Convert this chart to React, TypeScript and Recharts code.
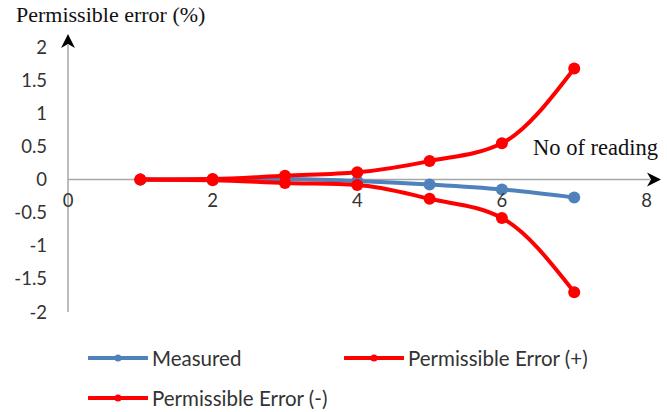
import { Line, LineChart, ReferenceDot, ReferenceLine, XAxis, YAxis } from "recharts";

const readings = [1, 2, 3, 4, 5, 6, 7];
const measured = [0, 0, 0.01, -0.02, -0.075, -0.15, -0.27];
const errPlus = [0, 0.01, 0.06, 0.11, 0.28, 0.55, 1.68];
const errMinus = [0, -0.01, -0.05, -0.08, -0.29, -0.58, -1.7];
const xTicks = [0, 2, 4, 6, 8];
const yTicks = [-2, -1.5, -1, -0.5, 0, 0.5, 1, 1.5, 2];

const series = [
  { key: "measured", name: "Measured", color: "#4F81BD" },
  { key: "plus", name: "Permissible Error (+)", color: "#FF0000" },
  { key: "minus", name: "Permissible Error (-)", color: "#FF0000" },
];

const data = readings.map((r, i) => ({
  reading: r,
  measured: measured[i],
  plus: errPlus[i],
  minus: errMinus[i],
}));

const sans = "Lato, 'Open Sans', sans-serif";
const serif = "'Liberation Serif', 'DejaVu Serif', serif";

// gray axis line finished with a black arrow head at the far end
function ArrowAxis(props: any) {
  const { x1, y1, x2, y2 } = props;
  const dx = x2 - x1;
  const dy = y2 - y1;
  const len = Math.hypot(dx, dy) || 1;
  const ux = dx / len;
  const uy = dy / len;
  const head = 14;
  const half = 7;
  const bx = x2 - ux * head;
  const by = y2 - uy * head;
  const px = -uy;
  const py = ux;
  return (
    <g>
      <line x1={x1} y1={y1} x2={bx + ux * 3} y2={by + uy * 3} stroke="#a6a6a6" strokeWidth={1.5} />
      <polygon
        points={`${x2},${y2} ${bx + px * half},${by + py * half} ${bx + ux * 4},${by + uy * 4} ${bx - px * half},${by - py * half}`}
        fill="#000"
      />
    </g>
  );
}

function LegendIcon({ color }: { color: string }) {
  return (
    <svg width={60} height={12} style={{ display: "block" }}>
      <line x1={1} y1={6} x2={59} y2={6} stroke={color} strokeWidth={4} strokeLinecap="round" />
      <circle cx={30} cy={6} r={3.5} fill={color} />
    </svg>
  );
}

export default function App() {
  return (
    <div style={{ position: "absolute", left: 0, top: 0, width: 667, height: 412, background: "#fff" }}>
      <LineChart
        width={667}
        height={412}
        data={data}
        margin={{ top: 34, right: 6, bottom: 100, left: 0 }}
      >
        <XAxis type="number" dataKey="reading" domain={[0, 8.2]} ticks={xTicks} hide />
        <YAxis
          type="number"
          domain={[-2, 2.2]}
          ticks={yTicks}
          width={68}
          axisLine={false}
          tickLine={false}
          tickMargin={15}
          tick={{ fill: "#333", fontSize: 18.5, fontFamily: sans }}
        />
        <ReferenceLine
          segment={[
            { x: 0, y: -2 },
            { x: 0, y: 2.2 },
          ]}
          shape={ArrowAxis}
        />
        <ReferenceLine
          segment={[
            { x: 0, y: 0 },
            { x: 8.2, y: 0 },
          ]}
          shape={ArrowAxis}
        />
        {xTicks.map((t) => (
          <ReferenceDot
            key={t}
            x={t}
            y={0}
            r={0}
            fill="none"
            stroke="none"
            label={{ value: t, position: "bottom", offset: 14, fill: "#333", fontSize: 18.5, fontFamily: sans }}
          />
        ))}
        {series.map((s) => (
          <Line
            key={s.key}
            type="monotone"
            dataKey={s.key}
            name={s.name}
            stroke={s.color}
            strokeWidth={4}
            dot={{ r: 6, fill: s.color, stroke: s.color, strokeWidth: 0 }}
            isAnimationActive={false}
          />
        ))}
      </LineChart>
      <div
        style={{
          position: "absolute",
          left: 16,
          top: 2,
          fontFamily: serif,
          fontSize: 22,
          lineHeight: "26px",
          color: "#111",
          whiteSpace: "nowrap",
        }}
      >
        Permissible error (%)
      </div>
      <div
        style={{
          position: "absolute",
          right: 9,
          top: 135,
          fontFamily: serif,
          fontSize: 22.5,
          lineHeight: "26px",
          color: "#111",
          whiteSpace: "nowrap",
        }}
      >
        No of reading
      </div>
      <div
        style={{
          position: "absolute",
          left: 88,
          top: 345,
          width: 560,
          display: "flex",
          flexWrap: "wrap",
          fontFamily: sans,
          fontSize: 20.5,
          color: "#333",
        }}
      >
        {series.map((s) => (
          <div key={s.key} style={{ width: 256, height: 40, display: "flex", alignItems: "flex-start" }}>
            <div style={{ marginTop: 7, marginRight: 4 }}>
              <LegendIcon color={s.color} />
            </div>
            <span style={{ lineHeight: "26px" }}>{s.name}</span>
          </div>
        ))}
      </div>
    </div>
  );
}
